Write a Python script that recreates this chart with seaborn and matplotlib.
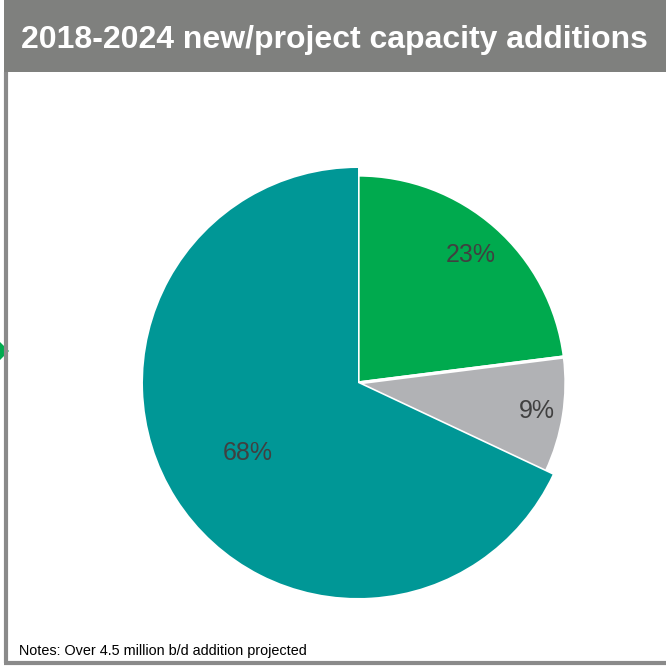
import numpy as np
import matplotlib
matplotlib.use("Agg")
import matplotlib.pyplot as plt
from matplotlib.patches import Rectangle, Polygon
import seaborn as sns

# shares of 2018-2024 new/project capacity additions (percent)
segments = ["Segment A", "Segment B", "Segment C"]
shares = [23, 9, 68]
labels = ["23%", "9%", "68%"]
colors = ["#00AA4E", "#B1B2B5", "#009796"]

title = "2018-2024 new/project capacity additions"
note = "Notes: Over 4.5 million b/d addition projected"

sns.set_theme(style="white")
plt.rcParams["font.family"] = ["Liberation Sans", "DejaVu Sans"]

fig = plt.figure(figsize=(6.66, 6.66), dpi=100)
ax = fig.add_axes([0, 0, 1, 1])

cx, cy, r = 358, 283, 208
wedges, _ = ax.pie(shares, colors=colors, startangle=90, counterclock=False,
                   center=(cx, cy), radius=r, frame=True,
                   wedgeprops=dict(edgecolor="white", linewidth=2.4))
ax.set_xlim(0, 666)
ax.set_ylim(0, 666)
ax.set_aspect("equal")
ax.axis("off")
# the big slice sits a bit proud of the others, no white edge
wedges[2].set_radius(215)
wedges[2].set_edgecolor("none")
wedges[2].set_zorder(3)

# percent labels
label_r = [0.82, 0.87, 0.63]
start = 90
for s, lab, lr in zip(shares, labels, label_r):
    mid = np.deg2rad(start - s * 3.6 / 2)
    start -= s * 3.6
    ax.text(cx + lr * r * np.cos(mid), cy + lr * r * np.sin(mid), lab,
            ha="center", va="center", fontsize=18, color="#404040", zorder=5)

# title bar
ax.add_patch(Rectangle((4, 594), 662, 72, facecolor="#7F807E",
                       edgecolor="none", zorder=4))
ax.text(334, 618, title, ha="center", va="baseline", fontsize=23,
        fontweight="bold", color="white", zorder=5)

# frame lines
ax.plot([6, 6], [3, 594], color="#8A8A8A", lw=3, solid_capstyle="butt", zorder=4)
ax.plot([4, 666], [3.5, 3.5], color="#8A8A8A", lw=3, solid_capstyle="butt", zorder=4)

# little green arrow on left edge
ax.add_patch(Polygon([[0, 324], [9, 315], [0, 306]], closed=True,
                     facecolor="#00AA4E", edgecolor="none", zorder=3))

ax.text(19, 11, note, ha="left", va="baseline", fontsize=10.4, color="black", zorder=5)

fig.savefig("out.png", dpi=100)
